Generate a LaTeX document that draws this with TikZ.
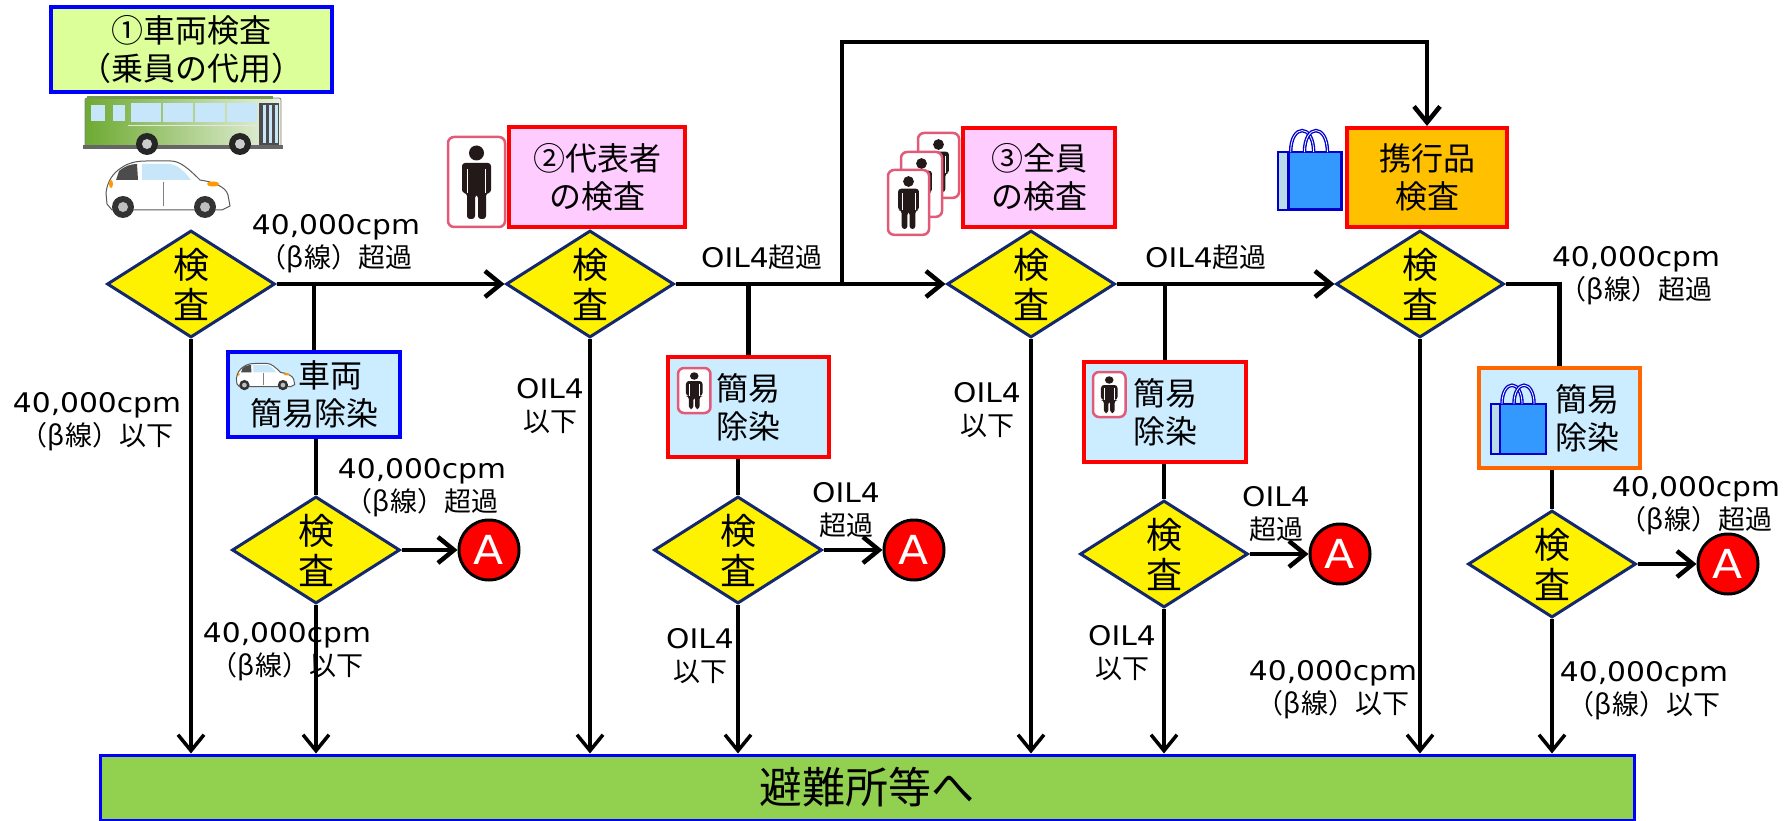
\documentclass[tikz,border=0pt]{standalone}
\usepackage{fontspec}
\setmainfont{Noto Sans CJK JP}
\newfontfamily\cpmfont[FakeStretch=1.1]{DejaVu Sans}
\usetikzlibrary{shapes.geometric,arrows.meta}

\definecolor{limefill}{RGB}{221,255,153}
\definecolor{pinkfill}{RGB}{255,204,255}
\definecolor{skyfill}{RGB}{204,236,255}
\definecolor{orangefill}{RGB}{255,192,0}
\definecolor{orangeline}{RGB}{255,102,0}
\definecolor{barfill}{RGB}{146,208,80}
\definecolor{navyline}{RGB}{20,40,110}
\definecolor{iconframe}{RGB}{225,90,120}
\definecolor{iconbody}{RGB}{35,25,25}
\definecolor{bagblue}{RGB}{51,153,255}
\definecolor{bagback}{RGB}{185,220,232}
\definecolor{bagline}{RGB}{0,0,204}
\definecolor{busgreen}{RGB}{110,170,50}
\definecolor{glass}{RGB}{200,230,250}

\newcommand{\cpm}{{\cpmfont 40,000cpm}}
\newcommand{\oil}{{\cpmfont OIL4}}

\tikzset{
  check/.style={diamond, aspect=1.55, draw=navyline, line width=3pt, fill=yellow,
    inner sep=0pt, minimum width=168pt, minimum height=107pt, align=center,
    font=\fontsize{36}{40}\selectfont},
  stepbox/.style={rectangle, line width=4pt, align=center, inner sep=0pt,
    font=\fontsize{32}{38}\selectfont},
  note/.style={align=center, inner sep=0pt, font=\fontsize{27}{33}\selectfont},
  markA/.style={circle, draw=black, line width=3pt, fill=red, text=white,
    minimum size=60pt, inner sep=0pt, font=\cpmfont\fontsize{40}{40}\selectfont},
  flow/.style={line width=4.5pt},
  feed/.style={line width=4.5pt, -{Straight Barb[length=16pt,width=26pt]}},
  drop/.style={line width=3.5pt, -{Straight Barb[length=16pt,width=26pt]}},
  % icons, drawn with the origin at the top left corner
  person/.pic={
    \draw[iconframe, line width=2.5pt, fill=white, rounded corners=6pt] (0,0) rectangle (57,90);
    \fill[iconbody] (28.5,16) circle (7.5);
    \fill[iconbody, rounded corners=3pt] (14,26) -- (43,26) -- (43,56) -- (38,56) -- (38,82)
      -- (30,82) -- (30,58) -- (27,58) -- (27,82) -- (19,82) -- (19,56) -- (14,56) -- cycle;
    \draw[white, line width=1pt] (19.5,32) -- (19.5,56) (37.5,32) -- (37.5,56);
  },
  bag/.pic={
    \draw[bagline, line width=2pt, fill=bagback] (0,21) rectangle (42,71);
    \draw[bagline, line width=2.5pt, fill=bagblue] (9,21) rectangle (55,71);
    \foreach \hx in {11,23} {
      \draw[bagline, line width=3.5pt] (\hx,21) .. controls (\hx,-4) and (\hx+20,-4) .. (\hx+20,21);
      \draw[white, line width=.8pt] (\hx,21) .. controls (\hx,-4) and (\hx+20,-4) .. (\hx+20,21);
    }
  },
  car/.pic={
    \draw[gray!70!black, line width=1pt, fill=white] (4,44) -- (3,33)
      .. controls (4,22) and (10,13) .. (18,8) .. controls (25,3) and (33,1) .. (43,1) -- (68,1)
      .. controls (77,1) and (86,9) .. (97,20) .. controls (111,22) and (123,27) .. (125,35)
      -- (127,46) -- (119,50) -- (9,50) -- cycle;
    \fill[gray!60!black] (16,11) .. controls (22,6) and (28,4) .. (34,4) -- (35,20) -- (13,20) -- cycle;
    \fill[glass] (39,4) -- (66,4) .. controls (74,4) and (82,12) .. (88,20) -- (39,20) -- cycle;
    \draw[gray] (60,22) -- (60,46);
    \fill[orange!80!yellow] (110,24) ellipse (6 and 2.5);
    \fill[orange!80!yellow] (8,24) ellipse (2 and 4);
    \foreach \wx in {20,102} {
      \fill[black!80] (\wx,47) circle (11);
      \fill[gray!50] (\wx,47) circle (5);
    }
  },
  bus/.pic={
    \draw[black!50, line width=.8pt, left color=busgreen, right color=busgreen!15!white,
      rounded corners=2pt] (2,3) rectangle (198,52);
    \fill[busgreen!60!gray] (4,1) rectangle (190,4);
    \fill[glass] (8,10) rectangle (22,26);
    \fill[glass] (30,10) rectangle (42,26);
    \foreach \wx in {48,80,112,144} \fill[glass] (\wx,8) rectangle ++(30,19);
    \draw[white!80!gray] (45,30) -- (175,30);
    \fill[black!70] (176,8) rectangle (196,50);
    \foreach \dx in {180,186,192} \fill[glass] (\dx,10) rectangle ++(3,38);
    \fill[black!60] (0,50) rectangle (200,54);
    \foreach \wx in {64,157} {
      \fill[black!85] (\wx,49) circle (11);
      \fill[gray!40] (\wx,49) circle (5);
    }
  }
}

\begin{document}
\begin{tikzpicture}[x=1pt,y=-1pt]

\useasboundingbox (0,0) rectangle (1789,821);

% headings
\node[stepbox, draw=blue, fill=limefill, minimum width=281pt, minimum height=85pt] (vehicle) at (191.5,49.5) {①車両検査\\（乗員の代用）};
\node[stepbox, draw=red, fill=pinkfill, minimum width=176pt, minimum height=100pt] (rep) at (597,177) {②代表者\\の検査};
\node[stepbox, draw=red, fill=pinkfill, minimum width=152pt, minimum height=99pt] (all) at (1039,177.5) {③全員\\の検査};
\node[stepbox, draw=red, fill=orangefill, minimum width=160pt, minimum height=99pt] (goods) at (1427,177.5) {携行品\\検査};

\pic at (83,95) {bus};
\pic at (103,160) {car};
\pic at (448,137) {person};
\pic[scale=.72] at (918,133) {person};
\pic[scale=.72] at (901,152) {person};
\pic[scale=.72] at (888,170) {person};
\pic[scale=1.15] at (1278,128) {bag};

% first row of checks
\node[check] (c1) at (191,284) {検\\査};
\node[check] (c2) at (590,284) {検\\査};
\node[check] (c3) at (1031,284) {検\\査};
\node[check] (c4) at (1420,284) {検\\査};

% decontamination
\node[stepbox, draw=blue, fill=skyfill, minimum width=172pt, minimum height=85pt] (vdecon) at (314,394.5) {\hphantom{両}車両\\簡易除染};
\node[stepbox, draw=red, fill=skyfill, minimum width=161pt, minimum height=100pt] (pdecon1) at (748.5,407) {簡易\\除染};
\node[stepbox, draw=red, fill=skyfill, minimum width=162pt, minimum height=100pt] (pdecon2) at (1165,412) {簡易\\除染};
\node[stepbox, draw=orangeline, fill=skyfill, minimum width=161pt, minimum height=100pt] (gdecon) at (1559.5,418) {\hspace*{56pt}簡易\\\hspace*{56pt}除染};

\pic[scale=.47] at (235,363) {car};
\pic[xscale=.57,yscale=.5] at (678,368) {person};
\pic[xscale=.57,yscale=.5] at (1093,372) {person};
\pic at (1491,383) {bag};

% second row of checks
\node[check] (c1b) at (316,550) {検\\査};
\node[check] (c2b) at (738,550) {検\\査};
\node[check] (c3b) at (1164,554) {検\\査};
\node[check] (c4b) at (1552,564) {検\\査};

\node[markA] (a1) at (489,550) {A};
\node[markA] (a2) at (914,550) {A};
\node[markA] (a3) at (1340,554) {A};
\node[markA] (a4) at (1728,564) {A};

\node[draw=blue, line width=3pt, fill=barfill, minimum width=1534pt, minimum height=65pt, inner sep=0pt,
  font=\fontsize{43}{43}\selectfont] (shelter) at (867,787.5) {避難所等へ};

% labels
\node[note] (n1) at (336,244) {\cpm\\（β線）超過};
\node[note] (n2) at (762,257) {\oil 超過};
\node[note] (n3) at (1206,257) {\oil 超過};
\node[note] (n4) at (1636,276) {\cpm\\（β線）超過};
\node[note] (n5) at (97,422) {\cpm\\（β線）以下};
\node[note] (n6) at (550,406) {\oil\\以下};
\node[note] (n7) at (987,410) {\oil\\以下};
\node[note] (n8) at (422,488) {\cpm\\（β線）超過};
\node[note] (n9) at (287,652) {\cpm\\（β線）以下};
\node[note] (n10) at (846,510) {\oil\\超過};
\node[note] (n11) at (700,656) {\oil\\以下};
\node[note] (n12) at (1276,514) {\oil\\超過};
\node[note] (n13) at (1122,653) {\oil\\以下};
\node[note] (n14) at (1333,690) {\cpm\\（β線）以下};
\node[note] (n15) at (1696,506) {\cpm\\（β線）超過};
\node[note] (n16) at (1644,691) {\cpm\\（β線）以下};

% connectors
\draw[feed] (c1.east) -- (c2.west);
\draw[feed] (c2.east) -- (c3.west);
\draw[feed] (c3.east) -- (c4.west);

\coordinate (split) at (842,284);
\coordinate (looptop) at (842,42);
\draw[feed] (split) -- (looptop) -| (goods.north);

\draw[flow] (vdecon.north) -- (vdecon.north |- c1.east);
\draw[flow] (pdecon1.north) -- (pdecon1.north |- c2.east);
\draw[flow] (pdecon2.north) -- (pdecon2.north |- c3.east);
\draw[flow] (c4.east) -| (gdecon.north);

\draw[flow] (c1b.north |- vdecon.south) -- (c1b.north);
\draw[flow] (c2b.north |- pdecon1.south) -- (c2b.north);
\draw[flow] (c3b.north |- pdecon2.south) -- (c3b.north);
\draw[flow] (c4b.north |- gdecon.south) -- (c4b.north);

\draw[feed] (c1b.east) -- (a1);
\draw[feed] (c2b.east) -- (a2);
\draw[feed] (c3b.east) -- (a3);
\draw[feed] (c4b.east) -- (a4);

\foreach \c in {c1,c1b,c2,c2b,c3,c3b,c4,c4b}
  \draw[drop] (\c.south) -- (\c.south |- shelter.north);

\end{tikzpicture}
\end{document}
